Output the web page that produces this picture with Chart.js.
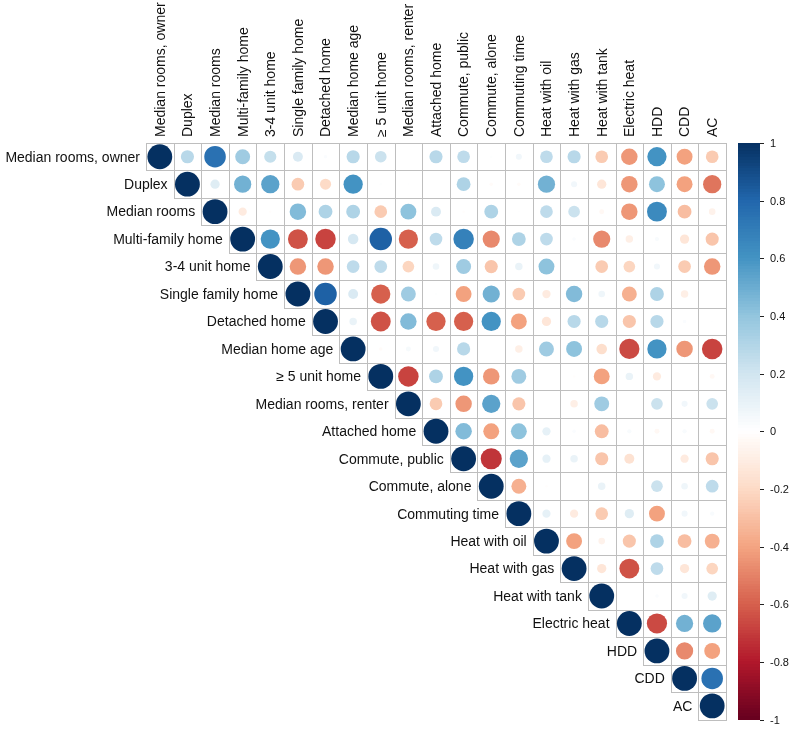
<!DOCTYPE html>
<html><head><meta charset="utf-8">
<script src="https://cdn.jsdelivr.net/npm/chart.js@4/dist/chart.umd.min.js"></script>
<style>html,body{margin:0;padding:0;background:#fff;}#wrap{width:800px;height:732px;position:relative;}</style>
</head><body><div id="wrap"><canvas id="c"></canvas></div>
<script>
// ---- data ----
const variables = ["Median rooms, owner","Duplex","Median rooms","Multi-family home","3-4 unit home","Single family home","Detached home","Median home age","\u2265 5 unit home","Median rooms, renter","Attached home","Commute, public","Commute, alone","Commuting time","Heat with oil","Heat with gas","Heat with tank","Electric heat","HDD","CDD","AC"];

// upper triangle, each row starts at the diagonal
const corrUpper = [
 [1, 0.28, 0.75, 0.36, 0.24, 0.16, 0.02, 0.28, 0.22, 0, 0.28, 0.26, 0.01, 0.06, 0.26, 0.28, -0.26, -0.44, 0.6, -0.41, -0.26],
 [1, 0.14, 0.48, 0.54, -0.26, -0.2, 0.6, 0.01, 0.005, 0, 0.31, -0.02, -0.02, 0.48, 0.06, -0.14, -0.44, 0.41, -0.41, -0.54],
 [1, -0.11, -0.01, 0.44, 0.31, 0.31, -0.26, 0.41, 0.16, -0.01, 0.31, 0.005, 0.26, 0.22, -0.04, -0.44, 0.64, -0.31, -0.07],
 [1, 0.6, -0.64, -0.68, 0.18, 0.82, -0.6, 0.26, 0.68, -0.48, 0.31, 0.26, 0.02, -0.48, -0.09, 0.03, -0.14, -0.28],
 [1, -0.44, -0.44, 0.26, 0.26, -0.22, 0.07, 0.36, -0.28, 0.09, 0.41, 0, -0.26, -0.22, 0.06, -0.26, -0.44],
 [1, 0.82, 0.16, -0.6, 0.36, 0.01, -0.41, 0.48, -0.26, -0.11, 0.44, 0.07, -0.36, 0.31, -0.09, 0],
 [1, 0.09, -0.64, 0.44, -0.6, -0.6, 0.6, -0.41, -0.14, 0.28, 0.28, -0.28, 0.28, 0.02, 0.005],
 [1, -0.02, 0.04, 0.06, 0.28, 0, -0.09, 0.36, 0.41, -0.18, -0.66, 0.6, -0.44, -0.68],
 [1, -0.68, 0.31, 0.6, -0.44, 0.36, 0, -0.01, -0.41, 0.09, -0.11, 0, -0.04],
 [1, -0.26, -0.44, 0.54, -0.28, 0, -0.09, 0.36, 0, 0.22, 0.06, 0.22],
 [1, 0.44, -0.41, 0.41, 0.11, 0.02, -0.31, 0.03, -0.04, 0.03, -0.04],
 [1, -0.72, 0.54, 0.11, 0.09, -0.28, -0.16, 0, -0.11, -0.28],
 [1, -0.36, -0.01, 0, 0.09, 0, 0.22, 0.07, 0.26],
 [1, 0.11, -0.11, -0.26, 0.14, -0.41, 0.06, 0.03],
 [1, -0.41, -0.07, -0.28, 0.31, -0.31, -0.36],
 [1, -0.14, -0.64, 0.26, -0.14, -0.22],
 [1, 0, 0.02, 0.06, 0.14],
 [1, -0.66, 0.48, 0.54],
 [1, -0.48, -0.41],
 [1, 0.75],
 [1]
];

const legendTicks = [1, 0.8, 0.6, 0.4, 0.2, 0, -0.2, -0.4, -0.6, -0.8, -1];
const legendTickLabels = ["1","0.8","0.6","0.4","0.2","0","-0.2","-0.4","-0.6","-0.8","-1"];

// ---- style ----
const paletteStops = ["#67001F","#B2182B","#D6604D","#F4A582","#FDDBC7","#FFFFFF","#D1E5F0","#92C5DE","#4393C3","#2166AC","#053061"];
function hexToRgb(h){return [parseInt(h.substr(1,2),16),parseInt(h.substr(3,2),16),parseInt(h.substr(5,2),16)];}
const stopRgb = paletteStops.map(hexToRgb);
function colorFor(v){
  let t = (Math.max(-1, Math.min(1, v)) + 1) / 2 * (stopRgb.length - 1);
  let i = Math.min(Math.floor(t), stopRgb.length - 2), f = t - i;
  const a = stopRgb[i], b = stopRgb[i+1];
  return 'rgb(' + a.map((c,k)=>Math.round(c + (b[k]-c)*f)).join(',') + ')';
}

const points = [];
corrUpper.forEach((row, i) => row.forEach((v, k) => points.push({x: i + k, y: i, v: v})));

const N = variables.length;
const FONT = '14px "Liberation Sans", Arial, sans-serif';

const decor = {
  id: 'decor',
  beforeDatasetsDraw(chart){
    const {ctx, scales:{x, y}} = chart;
    ctx.save();
    ctx.strokeStyle = '#BEBEBE';
    ctx.lineWidth = 1;
    for (let i = 0; i < N; i++) {
      for (let j = i; j < N; j++) {
        const l = Math.round(x.getPixelForValue(j - 0.5)) + 0.5;
        const r = Math.round(x.getPixelForValue(j + 0.5)) + 0.5;
        const t = Math.round(y.getPixelForValue(i - 0.5)) + 0.5;
        const b = Math.round(y.getPixelForValue(i + 0.5)) + 0.5;
        ctx.strokeRect(l, t, r - l, b - t);
      }
    }
    ctx.restore();
  },
  afterDraw(chart){
    const {ctx, chartArea, scales:{x, y}} = chart;
    ctx.save();
    ctx.fillStyle = '#111';
    ctx.font = FONT;
    // row labels next to diagonal
    ctx.textAlign = 'right';
    ctx.textBaseline = 'middle';
    for (let i = 0; i < N; i++) {
      ctx.fillText(variables[i], x.getPixelForValue(i - 0.5) - 6, y.getPixelForValue(i) + 1);
    }
    // column labels on top, rotated
    for (let j = 0; j < N; j++) {
      ctx.save();
      ctx.translate(x.getPixelForValue(j) + 1, chartArea.top - 6);
      ctx.rotate(-Math.PI / 2);
      ctx.textAlign = 'left';
      ctx.textBaseline = 'middle';
      ctx.fillText(variables[j], 0, 0);
      ctx.restore();
    }
    // colour legend
    const x0 = chartArea.right + 12, x1 = x0 + 22;
    const top = chartArea.top, bot = chartArea.bottom, H = bot - top;
    const nCol = 200;
    for (let k = 0; k < nCol; k++) {
      const v = 1 - (k + 0.5) / nCol * 2;
      ctx.fillStyle = colorFor(v);
      const ya = top + k * H / nCol, yb = top + (k + 1) * H / nCol;
      ctx.fillRect(x0, Math.floor(ya), x1 - x0, Math.ceil(yb) - Math.floor(ya));
    }
    ctx.strokeStyle = '#222';
    ctx.lineWidth = 1;
    ctx.fillStyle = '#111';
    ctx.font = '11px "Liberation Sans", Arial, sans-serif';
    ctx.textAlign = 'left';
    ctx.textBaseline = 'middle';
    legendTicks.forEach((t, k) => {
      const py = top + (1 - t) / 2 * H;
      ctx.beginPath();
      ctx.moveTo(x1, Math.round(py) + 0.5);
      ctx.lineTo(x1 + 4, Math.round(py) + 0.5);
      ctx.stroke();
      ctx.fillText(legendTickLabels[k], x1 + 10, py + 1);
    });
    ctx.restore();
  }
};

new Chart(document.getElementById('c'), {
  type: 'scatter',
  data: { datasets: [{
    data: points,
    pointBackgroundColor: c => colorFor(c.raw.v),
    pointBorderColor: c => colorFor(c.raw.v),
    pointBorderWidth: 0,
    pointRadius: c => {
      const ca = c.chart.chartArea;
      const cell = ca ? (ca.right - ca.left) / N : 27.6;
      return 0.45 * Math.sqrt(Math.abs(c.raw.v)) * cell;
    },
    pointHoverRadius: c => {
      const ca = c.chart.chartArea;
      const cell = ca ? (ca.right - ca.left) / N : 27.6;
      return 0.45 * Math.sqrt(Math.abs(c.raw.v)) * cell;
    }
  }]},
  options: {
    responsive: true,
    maintainAspectRatio: false,
    animation: false,
    events: [],
    layout: { padding: { left: 146, right: 74, top: 143, bottom: 9 } },
    scales: {
      x: { type: 'linear', min: -0.5, max: N - 0.5, display: false },
      y: { type: 'linear', min: -0.5, max: N - 0.5, reverse: true, display: false }
    },
    plugins: { legend: { display: false }, tooltip: { enabled: false } }
  },
  plugins: [decor]
});
</script>
</body></html>
